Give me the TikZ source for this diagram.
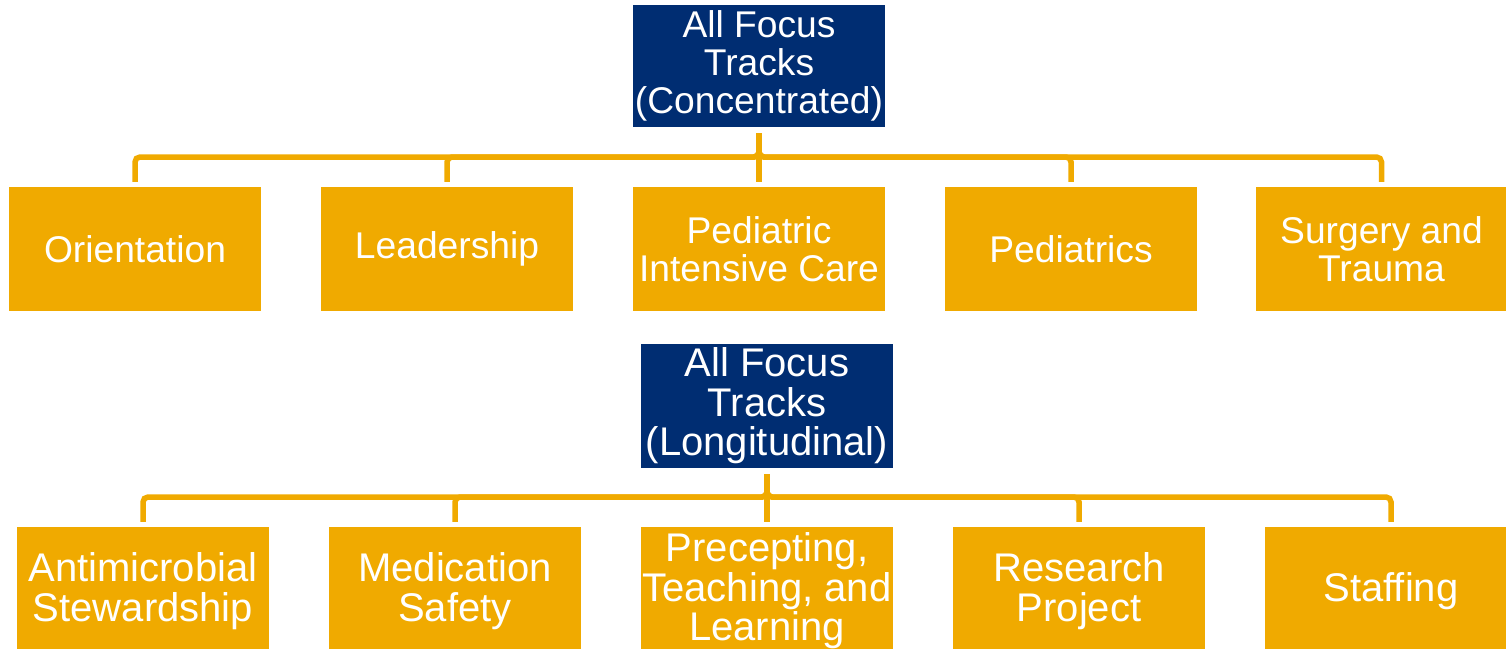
\documentclass[tikz,border=0pt]{standalone}
\usepackage{fontspec}
\setmainfont{Liberation Sans}
\definecolor{navy}{RGB}{0,45,114}
\definecolor{gold}{RGB}{240,170,0}
\begin{document}
\begin{tikzpicture}[x=1pt,y=-1pt,
  box/.style={rectangle,inner sep=0pt,minimum width=252pt,minimum height=124pt,
    align=center,text=white,font=\fontsize{37.2}{37.8}\selectfont},
  big/.style={font=\fontsize{40}{39.5}\selectfont},
  headbox/.style={box,fill=navy},
  trackbox/.style={box,fill=gold},
  lowbox/.style={trackbox,big,minimum height=128pt},
  conn/.style={draw=gold,line width=5.5pt,rounded corners=5pt,shorten <=6pt,shorten >=5pt}]
\useasboundingbox (0,0) rectangle (1506,648);
\clip (0,0) rectangle (1506,648);
% top tree
\node[headbox,minimum height=122pt] (t) at (759,66) {All Focus\\Tracks\\(Concentrated)};
\node[trackbox] (a1) at (135,249) {Orientation};
\node[trackbox] (a2) at (447,249) {Leadership};
\node[trackbox] (a3) at (759,249) {Pediatric\\Intensive Care};
\node[trackbox] (a4) at (1071,249) {Pediatrics};
\node[trackbox] (a5) at (1381.5,249) {Surgery and\\Trauma};
\coordinate (bus1) at (759,157);
\foreach \c in {a1,a2,a4,a5}{
  \draw[conn] (t.south) -- (t.south |- bus1) -| (\c.north);
}
\draw[conn] (t.south) -- (a3.north);
% bottom tree
\node[headbox,big] (b) at (767,406) {All Focus\\Tracks\\(Longitudinal)};
\node[lowbox] (b1) at (143,591) {Antimicrobial\\Stewardship};
\node[lowbox] (b2) at (455,591) {Medication\\Safety};
\node[lowbox] (b3) at (767,591) {Precepting,\\Teaching, and\\Learning};
\node[lowbox] (b4) at (1079,591) {Research\\Project};
\node[lowbox] (b5) at (1391,591) {Staffing};
\coordinate (bus2) at (767,497);
\foreach \c in {b1,b2,b4,b5}{
  \draw[conn] (b.south) -- (b.south |- bus2) -| (\c.north);
}
\draw[conn] (b.south) -- (b3.north);
\end{tikzpicture}
\end{document}
